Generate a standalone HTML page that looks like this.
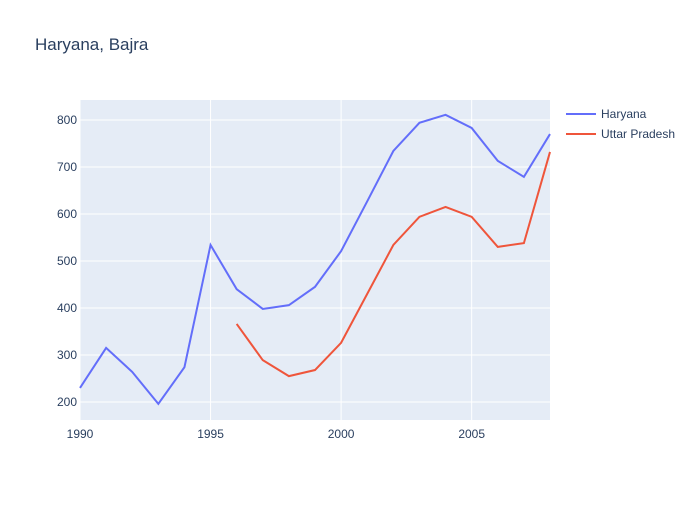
<!DOCTYPE html>
<html><head><meta charset="utf-8"><style>
body{margin:0;background:#fff;font-family:"Liberation Sans",sans-serif}
</style></head><body>
<svg id="c" width="700" height="500" xmlns="http://www.w3.org/2000/svg"></svg>
<script>
const years=[1990,1991,1992,1993,1994,1995,1996,1997,1998,1999,2000,2001,2002,2003,2004,2005,2006,2007,2008];
const haryana=[230,315,264,196,274,534,440,398,406,445,521,627,734,794,811,783,713,679,770];
const upYears=[1996,1997,1998,1999,2000,2001,2002,2003,2004,2005,2006,2007,2008];
const up=[366,289,255,268,326,430,534,594,615,594,530,538,732];
const xTicks=[1990,1995,2000,2005];
const yTicks=[200,300,400,500,600,700,800];
const L=80,R=550,T=100,B=420,xMin=1990,xMax=2008,yMin=161.7,yMax=842.5;
const X=v=>L+(v-xMin)/(xMax-xMin)*(R-L);
const Y=v=>B-(v-yMin)/(yMax-yMin)*(B-T);
const s=document.getElementById('c');const NS='http://www.w3.org/2000/svg';
function el(t,a,p){const e=document.createElementNS(NS,t);for(const k in a)e.setAttribute(k,a[k]);(p||s).appendChild(e);return e;}
let e=el('rect',{x:L,y:T,width:R-L,height:B-T,fill:'#e5ecf6'});


xTicks.forEach(t=>{let g=el('line',{x1:X(t),x2:X(t),y1:T,y2:B,stroke:'#fff','stroke-width':1});


let tx=el('text',{x:X(t),y:B+18,'text-anchor':'middle','font-size':12,fill:'#2a3f5f'});tx.textContent=t;

});
yTicks.forEach(t=>{let g=el('line',{x1:L,x2:R,y1:Y(t),y2:Y(t),stroke:'#fff','stroke-width':1});


let tx=el('text',{x:L-3,y:Y(t)+4,'text-anchor':'end','font-size':12,fill:'#2a3f5f'});tx.textContent=t;

});
let p1=el('polyline',{points:years.map((y,i)=>X(y)+','+Y(haryana[i])).join(' '),fill:'none',stroke:'#636efa','stroke-width':2});


let p2=el('polyline',{points:upYears.map((y,i)=>X(y)+','+Y(up[i])).join(' '),fill:'none',stroke:'#ef553b','stroke-width':2});


let ti=el('text',{x:35,y:50,'font-size':17,fill:'#2a3f5f'});ti.textContent='Haryana, Bajra';


[['Haryana','#636efa',114],['Uttar Pradesh','#ef553b',134]].forEach(([n,c,y])=>{
let g=el('g',{});


el('line',{x1:566,x2:596,y1:y,y2:y,stroke:c,'stroke-width':2},g);
let t=el('text',{x:601,y:y+4,'font-size':12,fill:'#2a3f5f'},g);t.textContent=n;});
</script>
</body></html>
